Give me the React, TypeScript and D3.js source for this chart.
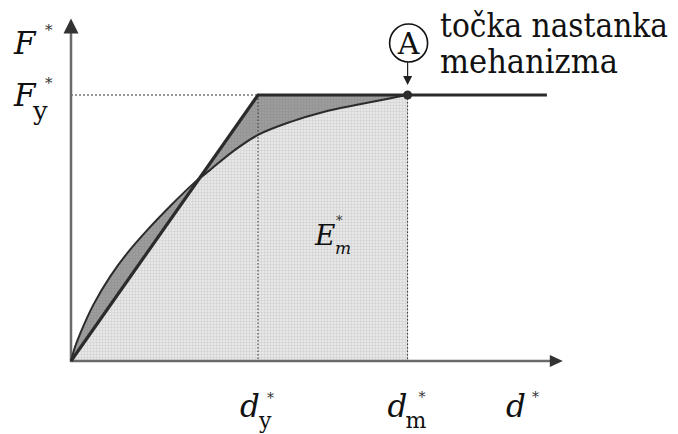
import React from "react";
import * as d3 from "d3";

// capacity curve (normalised: d / dy, F / Fy)
const curveD = [0, 0.02, 0.05, 0.12, 0.21, 0.3, 0.41, 0.53, 0.65, 0.75, 0.87, 1.0, 1.17, 1.35, 1.53, 1.71, 1.8];
const curveF = [0, 0.05, 0.105, 0.212, 0.318, 0.405, 0.494, 0.582, 0.664, 0.722, 0.79, 0.85, 0.898, 0.936, 0.963, 0.988, 1.0];

// idealised elasto-plastic line
const bilinD = [0, 1, 2.545];
const bilinF = [0, 1, 1];

const dy = 1;
const dm = 1.8;
const Fy = 1;
const dMax = 2.63;
const FMax = 1.28;

const serif = "DejaVu Serif";

export default function App() {
  const x = d3.scaleLinear().domain([0, 1]).range([71, 258]);
  const y = d3.scaleLinear().domain([0, 1]).range([361, 95]);

  const curvePts: [number, number][] = curveD.map((d, i) => [d, curveF[i]]);
  const bilinPts: [number, number][] = bilinD.map((d, i) => [d, bilinF[i]]);

  const line = d3.line<[number, number]>().x(p => x(p[0])).y(p => y(p[1])).curve(d3.curveCatmullRom.alpha(0.5));
  const straight = d3.line<[number, number]>().x(p => x(p[0])).y(p => y(p[1]));
  const area = d3.area<[number, number]>().x(p => x(p[0])).y0(y(0)).y1(p => y(p[1])).curve(d3.curveCatmullRom.alpha(0.5));

  // region under the bilinear line up to dm
  const underBilin: [number, number][] = [[0, 0], [dy, Fy], [dm, Fy], [dm, 0]];
  const underBilinPath = straight(underBilin) + "Z";

  const x0 = x(0), yb = y(0);
  const axisCol = "#6a6a6a";
  const ink = "#2b2b2b";

  return (
    <svg width={678} height={434} style={{ position: "absolute", left: 0, top: 0, background: "#fff" }}>
      <defs>
        <pattern id="light" width="3" height="3" patternUnits="userSpaceOnUse">
          <rect width="3" height="3" fill="#e7e7e7" />
          <path d="M0 0.5H3M0.5 0V3" stroke="#d2d2d2" strokeWidth="0.6" />
        </pattern>
        <pattern id="dark" width="3" height="3" patternUnits="userSpaceOnUse">
          <rect width="3" height="3" fill="#9d9d9d" />
          <path d="M0 0.5H3M0.5 0V3" stroke="#929292" strokeWidth="0.6" />
        </pattern>
        <clipPath id="clipBilin">
          <path d={underBilinPath} />
        </clipPath>
      </defs>

      {/* fills */}
      <path d={underBilinPath} fill="url(#dark)" />
      <path d={area(curvePts) || ""} fill="url(#dark)" />
      <path d={area(curvePts) || ""} fill="url(#light)" clipPath="url(#clipBilin)" />

      {/* dotted guides */}
      <line x1={x0} x2={x(dy)} y1={y(Fy)} y2={y(Fy)} stroke="#333" strokeWidth={1} strokeDasharray="2,2" />
      <line x1={x(dy)} x2={x(dy)} y1={y(Fy)} y2={yb} stroke="#333" strokeWidth={1} strokeDasharray="1.5,2" />
      <line x1={x(dm)} x2={x(dm)} y1={y(Fy)} y2={yb} stroke="#333" strokeWidth={1} strokeDasharray="1.5,2" />

      {/* axes */}
      <line x1={x0} x2={x0} y1={yb + 1} y2={y(FMax) + 12} stroke={axisCol} strokeWidth={2.5} />
      <path d={`M${x0},${y(FMax) - 2} L${x0 - 7.5},${y(FMax) + 13} L${x0 + 7.5},${y(FMax) + 13} Z`} fill="#333" />
      <line x1={x0 - 1} x2={x(dMax) - 12} y1={yb} y2={yb} stroke={axisCol} strokeWidth={2.5} />
      <path d={`M${x(dMax)},${yb} L${x(dMax) - 13},${yb - 6} L${x(dMax) - 13},${yb + 6} Z`} fill="#333" />

      {/* curves */}
      <path d={line(curvePts) || ""} fill="none" stroke={ink} strokeWidth={2} />
      <path d={straight(bilinPts) || ""} fill="none" stroke={ink} strokeWidth={3.2} strokeLinejoin="miter" />
      <circle cx={x(dm)} cy={y(Fy)} r={4.5} fill={ink} />

      {/* point A marker */}
      <circle cx={x(dm) + 1} cy={43} r={19} fill="#fff" stroke="#111" strokeWidth={1.6} />
      <text x={x(dm) + 1} y={54} textAnchor="middle" fontFamily={serif} fontSize={30} fill="#111">A</text>
      <line x1={x(dm)} x2={x(dm)} y1={62} y2={76} stroke="#222" strokeWidth={1.2} />
      <path d={`M${x(dm) - 4.5},${76} L${x(dm) + 4.5},${76} L${x(dm)},${85} Z`} fill="#222" />
      <text x={440} y={37} fontFamily={serif} fontSize={34} fill="#111" textLength={228} lengthAdjust="spacingAndGlyphs">točka nastanka</text>
      <text x={440} y={73} fontFamily={serif} fontSize={34} fill="#111" textLength={178} lengthAdjust="spacingAndGlyphs">mehanizma</text>

      {/* axis labels */}
      <text x={14} y={54} fontFamily={serif} fontStyle="italic" fontSize={31} fill="#111">F</text>
      <text x={45} y={35} fontFamily={serif} fontSize={15} fill="#333">*</text>
      <text x={14} y={106} fontFamily={serif} fontStyle="italic" fontSize={31} fill="#111">F</text>
      <text x={45} y={88} fontFamily={serif} fontSize={15} fill="#333">*</text>
      <text x={33} y={120} fontFamily={serif} fontSize={26} fill="#111">y</text>

      <text x={315} y={245} fontFamily={serif} fontStyle="italic" fontSize={28} fill="#111">E</text>
      <text x={336} y={225} fontFamily={serif} fontSize={13} fill="#333">*</text>
      <text x={335} y={254} fontFamily={serif} fontStyle="italic" fontSize={17} fill="#111">m</text>

      <text x={x(dy) - 18} y={417} fontFamily={serif} fontStyle="italic" fontSize={31} fill="#111">d</text>
      <text x={x(dy) + 9} y={403} fontFamily={serif} fontSize={14} fill="#333">*</text>
      <text x={x(dy) + 1} y={428} fontFamily={serif} fontSize={22} fill="#111">y</text>

      <text x={x(dm) - 20} y={417} fontFamily={serif} fontStyle="italic" fontSize={31} fill="#111">d</text>
      <text x={x(dm) + 11} y={402} fontFamily={serif} fontSize={14} fill="#333">*</text>
      <text x={x(dm) - 2} y={428} fontFamily={serif} fontSize={22} fill="#111">m</text>

      <text x={506} y={417} fontFamily={serif} fontStyle="italic" fontSize={31} fill="#111">d</text>
      <text x={532} y={402} fontFamily={serif} fontSize={14} fill="#333">*</text>
    </svg>
  );
}
